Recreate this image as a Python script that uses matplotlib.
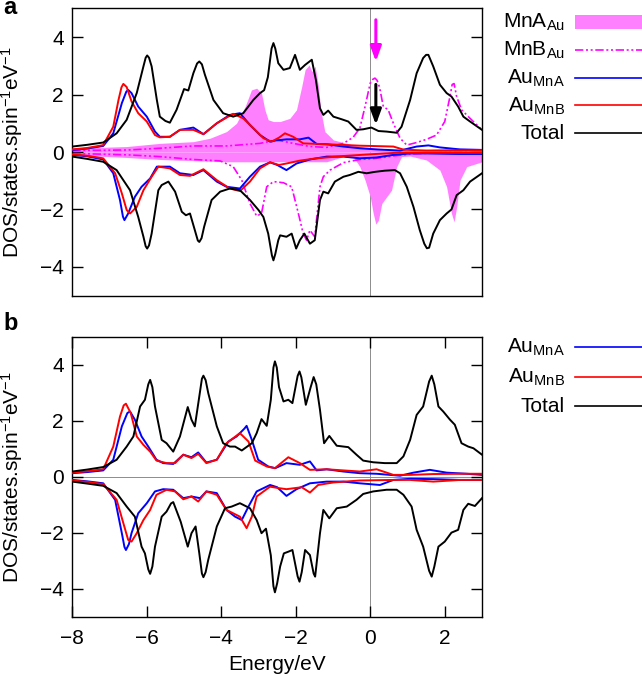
import numpy as np
import matplotlib
matplotlib.use("Agg")
from matplotlib import pyplot as plt
from matplotlib.lines import Line2D
from matplotlib.patches import Rectangle

plt.rcParams["font.family"] = ["Liberation Sans", "DejaVu Sans"]
plt.rcParams["mathtext.default"] = "regular"
plt.rcParams["font.size"] = 15

# ---- panel a : (energy eV, DOS) ----
mna_up_a = [(-8.0, 0.13), (-6.54, 0.19), (-5.65, 0.3), (-4.75, 0.36), (-4.3, 0.48), (-3.86, 0.71),
            (-3.59, 1.0), (-3.36, 1.58), (-3.19, 2.16), (-3.05, 2.22), (-2.92, 2.05), (-2.83, 1.47),
            (-2.74, 1.12), (-2.6, 1.06), (-2.42, 1.06), (-2.16, 1.17), (-1.98, 1.47), (-1.84, 2.28),
            (-1.75, 2.86), (-1.64, 3.03), (-1.57, 2.8), (-1.48, 2.98), (-1.39, 2.28), (-1.33, 1.47),
            (-1.22, 0.71), (-0.99, 0.42), (-0.63, 0.3), (-0.28, 0.19), (0.17, 0.13), (0.8, 0.07),
            (1.51, 0.09), (2.41, 0.13), (3.0, 0.13)]
mna_dn_a = [(-8.0, -0.1), (-6.54, -0.19), (-5.65, -0.26), (-4.75, -0.3), (-3.86, -0.34), (-2.5, -0.34),
            (-1.17, -0.34), (-0.72, -0.16), (-0.46, -0.16), (-0.28, -0.51), (-0.14, -0.98), (0.0, -1.56),
            (0.08, -2.14), (0.15, -2.51), (0.22, -2.37), (0.31, -1.79), (0.44, -1.56), (0.57, -1.33),
            (0.71, -0.51), (0.84, -0.16), (1.07, -0.14), (1.51, -0.28), (1.87, -0.63), (2.05, -1.21),
            (2.18, -2.14), (2.25, -2.43), (2.32, -1.91), (2.41, -0.98), (2.59, -0.51), (3.0, -0.34)]
mnb_up_a = [(-8.0, 0.05), (-6.5, 0.07), (-5.65, 0.13), (-4.75, 0.21), (-3.86, 0.21), (-2.96, 0.3),
            (-2.51, 0.42), (-2.07, 0.3), (-1.62, 0.19), (-1.17, 0.16), (-0.72, 0.3), (-0.46, 0.51),
            (-0.28, 0.83), (-0.14, 1.58), (0.0, 2.4), (0.07, 2.53), (0.126, 2.57), (0.18, 2.5),
            (0.25, 2.25), (0.35, 1.58), (0.48, 1.47), (0.62, 1.0), (0.8, 0.48), (0.98, 0.24),
            (1.245, 0.33), (1.51, 0.44), (1.78, 0.59), (2.0, 1.06), (2.14, 1.93), (2.2, 2.35),
            (2.25, 2.38), (2.32, 1.93), (2.45, 1.47), (2.68, 1.17), (3.0, 0.77)]
mnb_dn_a = [(-8.0, -0.05), (-6.5, -0.1), (-5.65, -0.16), (-4.75, -0.26), (-4.03, -0.31), (-3.68, -0.51),
            (-3.45, -0.98), (-3.23, -1.79), (-3.05, -2.23), (-2.92, -2.14), (-2.78, -1.21), (-2.6, -1.03),
            (-2.33, -1.07), (-2.11, -1.21), (-1.93, -2.14), (-1.8, -2.84), (-1.71, -3.07), (-1.62, -2.72),
            (-1.49, -2.95), (-1.35, -1.21), (-1.26, -0.86), (-1.08, -0.63), (-0.72, -0.37), (-0.28, -0.26),
            (0.17, -0.22), (0.62, -0.14), (1.07, -0.07), (1.96, -0.02), (3.0, -0.02)]
aua_up_a = [(-8.0, 0.07), (-7.6, 0.12), (-7.17, 0.21), (-6.9, 0.65), (-6.67, 1.7), (-6.55, 2.1),
            (-6.5, 2.16), (-6.41, 2.05), (-6.23, 1.58), (-6.0, 1.23), (-5.78, 0.71), (-5.65, 0.53),
            (-5.38, 0.53), (-5.11, 0.77), (-4.75, 0.85), (-4.48, 0.62), (-4.12, 1.0), (-3.77, 1.29),
            (-3.5, 1.35), (-3.23, 0.94), (-2.96, 0.59), (-2.69, 0.36), (-2.55, 0.4), (-2.25, 0.44),
            (-1.89, 0.44), (-1.66, 0.5), (-1.44, 0.28), (-1.17, 0.27), (-0.72, 0.19), (-0.28, 0.13),
            (0.17, 0.09), (0.8, 0.05), (1.245, 0.19), (1.56, 0.23), (1.87, 0.16), (2.41, 0.09), (3.0, 0.07)]
aua_dn_a = [(-8.0, -0.1), (-7.6, -0.15), (-7.17, -0.26), (-6.9, -0.74), (-6.72, -1.67), (-6.64, -2.25),
            (-6.6, -2.37), (-6.5, -2.14), (-6.32, -1.56), (-6.14, -1.21), (-5.91, -0.92), (-5.73, -0.51),
            (-5.38, -0.51), (-5.11, -0.74), (-4.75, -0.8), (-4.48, -0.63), (-4.12, -1.03), (-3.86, -1.21),
            (-3.5, -1.27), (-3.23, -0.86), (-2.96, -0.51), (-2.69, -0.36), (-2.5, -0.45), (-2.25, -0.63),
            (-1.98, -0.4), (-1.62, -0.26), (-1.17, -0.16), (-0.72, -0.16), (-0.28, -0.22), (0.17, -0.19),
            (0.62, -0.1), (1.07, -0.05), (1.51, -0.05), (2.41, -0.07), (3.0, -0.07)]
aub_up_a = [(-8.0, 0.09), (-7.6, 0.14), (-7.17, 0.24), (-6.9, 0.88), (-6.76, 1.81), (-6.68, 2.25),
            (-6.63, 2.37), (-6.54, 2.26), (-6.41, 1.76), (-6.23, 1.35), (-6.0, 1.06), (-5.78, 0.59),
            (-5.65, 0.51), (-5.38, 0.53), (-5.11, 0.77), (-4.75, 0.77), (-4.48, 0.62), (-4.12, 1.0),
            (-3.68, 1.33), (-3.41, 1.17), (-3.14, 0.83), (-2.87, 0.48), (-2.65, 0.36), (-2.45, 0.5),
            (-2.29, 0.65), (-2.07, 0.53), (-1.8, 0.3), (-1.17, 0.27), (-0.28, 0.22), (0.62, 0.19),
            (0.9, 0.08), (1.51, 0.05), (3.0, 0.06)]
aub_dn_a = [(-8.0, -0.08), (-7.6, -0.13), (-7.17, -0.22), (-6.85, -0.74), (-6.67, -1.44), (-6.54, -2.02),
            (-6.45, -2.14), (-6.27, -1.91), (-6.09, -1.33), (-5.87, -0.86), (-5.69, -0.51), (-5.38, -0.57),
            (-5.11, -0.8), (-4.84, -0.83), (-4.48, -0.6), (-4.12, -0.98), (-3.77, -1.27), (-3.5, -1.36),
            (-3.23, -1.03), (-2.96, -0.57), (-2.69, -0.36), (-2.45, -0.45), (-2.25, -0.4), (-1.89, -0.3),
            (-1.44, -0.22), (-0.72, -0.14), (0.0, -0.08), (0.8, -0.02), (1.5, -0.03), (3.0, -0.03)]
tot_up_a = [(-8.0, 0.19), (-7.6, 0.25), (-7.17, 0.33), (-6.81, 0.65), (-6.54, 1.12), (-6.27, 2.05),
            (-6.09, 2.98), (-6.03, 3.28), (-5.99, 3.36), (-5.94, 3.28), (-5.87, 2.98), (-5.73, 1.81),
            (-5.65, 1.23), (-5.5, 1.08), (-5.38, 1.02), (-5.2, 1.47), (-5.0, 2.19), (-4.885, 2.14),
            (-4.75, 2.74), (-4.65, 3.08), (-4.59, 3.15), (-4.52, 3.05), (-4.44, 2.69), (-4.21, 1.81),
            (-3.95, 1.35), (-3.68, 1.23), (-3.41, 1.35), (-3.14, 1.81), (-2.96, 2.05), (-2.85, 2.15),
            (-2.75, 2.6), (-2.65, 3.6), (-2.6, 3.79), (-2.55, 3.6), (-2.47, 3.09), (-2.33, 2.86),
            (-2.16, 2.92), (-2.02, 3.38), (-1.89, 2.86), (-1.75, 3.03), (-1.57, 3.21), (-1.46, 2.51),
            (-1.35, 1.52), (-1.26, 1.29), (-1.13, 1.44), (-0.99, 1.23), (-0.77, 1.14), (-0.59, 1.06),
            (-0.37, 0.77), (-0.19, 0.79), (0.03, 0.85), (0.22, 0.73), (0.44, 0.71), (0.71, 0.67),
            (0.84, 0.88), (1.07, 1.81), (1.245, 2.74), (1.42, 3.27), (1.5, 3.38), (1.56, 3.38),
            (1.69, 2.98), (1.87, 2.34), (2.05, 2.05), (2.18, 1.93), (2.36, 1.58), (2.5, 1.23),
            (2.68, 1.06), (3.0, 0.77)]
tot_dn_a = [(-8.0, -0.16), (-7.6, -0.24), (-7.17, -0.34), (-6.81, -0.63), (-6.45, -1.33), (-6.23, -2.26),
            (-6.09, -2.95), (-6.03, -3.28), (-5.99, -3.36), (-5.94, -3.25), (-5.87, -2.84), (-5.69, -1.33),
            (-5.6, -1.15), (-5.42, -1.03), (-5.24, -1.38), (-5.06, -2.08), (-4.95, -2.2), (-4.84, -2.14),
            (-4.71, -2.72), (-4.63, -3.08), (-4.59, -3.13), (-4.53, -3.0), (-4.46, -2.6), (-4.26, -1.67),
            (-4.03, -1.38), (-3.77, -1.27), (-3.5, -1.33), (-3.23, -1.67), (-3.0, -2.02), (-2.87, -2.26),
            (-2.74, -2.84), (-2.64, -3.6), (-2.6, -3.77), (-2.55, -3.55), (-2.47, -3.07), (-2.42, -2.9),
            (-2.25, -2.95), (-2.11, -2.84), (-1.99, -3.36), (-1.89, -3.07), (-1.77, -2.84), (-1.62, -3.19),
            (-1.49, -3.07), (-1.35, -1.67), (-1.26, -1.38), (-1.13, -1.44), (-0.95, -1.03), (-0.72, -0.86),
            (-0.55, -0.8), (-0.32, -0.69), (-0.1, -0.74), (0.13, -0.69), (0.39, -0.65), (0.66, -0.63),
            (0.8, -0.74), (0.98, -1.21), (1.16, -1.91), (1.33, -2.72), (1.45, -3.19), (1.52, -3.35),
            (1.58, -3.33), (1.69, -2.84), (1.87, -2.37), (2.05, -2.14), (2.18, -2.0), (2.32, -1.5),
            (2.5, -1.33), (2.68, -1.03), (3.0, -0.74)]

# ---- panel b ----
aua_up_b = [(-8.0, 0.13), (-7.6, 0.17), (-7.17, 0.23), (-6.9, 0.61), (-6.67, 1.8), (-6.52, 2.28),
            (-6.45, 2.33), (-6.32, 2.04), (-6.14, 1.44), (-5.96, 1.08), (-5.74, 0.61), (-5.56, 0.49),
            (-5.29, 0.46), (-5.02, 0.79), (-4.8, 0.7), (-4.62, 0.87), (-4.4, 0.51), (-4.12, 0.61),
            (-3.81, 1.26), (-3.59, 1.44), (-3.38, 1.72), (-3.32, 1.82), (-3.18, 1.32), (-3.01, 0.61),
            (-2.74, 0.37), (-2.55, 0.31), (-2.25, 0.49), (-1.89, 0.43), (-1.62, 0.55), (-1.44, 0.23),
            (-1.17, 0.27), (-0.72, 0.19), (-0.28, 0.13), (0.17, 0.11), (0.8, 0.04), (1.16, 0.15),
            (1.6, 0.25), (2.05, 0.15), (2.59, 0.11), (3.0, 0.07)]
aua_dn_b = [(-8.0, -0.11), (-7.6, -0.16), (-7.17, -0.23), (-6.85, -0.82), (-6.67, -2.01), (-6.6, -2.5),
            (-6.56, -2.61), (-6.48, -2.4), (-6.41, -2.01), (-6.23, -1.3), (-6.0, -0.94), (-5.78, -0.52),
            (-5.56, -0.44), (-5.29, -0.46), (-5.02, -0.76), (-4.8, -0.7), (-4.57, -0.76), (-4.4, -0.52),
            (-4.12, -0.58), (-3.86, -1.18), (-3.63, -1.42), (-3.45, -1.54), (-3.27, -1.06), (-3.05, -0.52),
            (-2.69, -0.29), (-2.5, -0.37), (-2.25, -0.68), (-1.98, -0.44), (-1.62, -0.23), (-1.17, -0.17),
            (-0.72, -0.17), (-0.28, -0.23), (0.26, -0.29), (0.62, -0.11), (1.07, -0.07), (1.69, -0.08),
            (2.41, -0.11), (3.0, -0.11)]
aub_up_b = [(-8.0, 0.15), (-7.6, 0.2), (-7.17, 0.27), (-6.9, 1.08), (-6.72, 2.15), (-6.62, 2.55),
            (-6.56, 2.61), (-6.43, 2.27), (-6.27, 1.44), (-6.09, 1.14), (-5.91, 0.9), (-5.74, 0.58),
            (-5.47, 0.49), (-5.24, 0.49), (-5.02, 0.79), (-4.8, 0.67), (-4.62, 0.82), (-4.4, 0.49),
            (-4.12, 0.61), (-3.86, 1.2), (-3.5, 1.56), (-3.27, 1.26), (-3.09, 0.58), (-2.78, 0.37),
            (-2.56, 0.31), (-2.2, 0.7), (-1.89, 0.49), (-1.62, 0.25), (-1.17, 0.27), (-0.28, 0.19),
            (0.17, 0.27), (0.62, 0.07), (1.07, 0.07), (1.69, 0.1), (2.41, 0.11), (3.0, 0.11)]
aub_dn_b = [(-8.0, -0.13), (-7.6, -0.18), (-7.17, -0.26), (-6.81, -0.82), (-6.63, -1.65), (-6.5, -2.25),
            (-6.41, -2.31), (-6.27, -2.01), (-6.09, -1.54), (-5.91, -1.18), (-5.74, -0.64), (-5.47, -0.46),
            (-5.24, -0.52), (-5.02, -0.8), (-4.8, -0.7), (-4.62, -0.88), (-4.4, -0.52), (-4.12, -0.64),
            (-3.86, -1.18), (-3.5, -1.42), (-3.32, -1.83), (-3.18, -1.42), (-3.05, -0.7), (-2.69, -0.35),
            (-2.47, -0.4), (-2.25, -0.44), (-1.84, -0.37), (-1.62, -0.56), (-1.4, -0.29), (-0.99, -0.2),
            (-0.28, -0.13), (0.62, -0.11), (1.07, -0.11), (1.69, -0.17), (2.41, -0.11), (3.0, -0.11)]
tot_up_b = [(-8.0, 0.19), (-7.6, 0.26), (-7.17, 0.35), (-6.81, 0.61), (-6.54, 1.08), (-6.36, 1.44),
            (-6.18, 2.51), (-6.05, 2.75), (-5.96, 3.3), (-5.91, 3.46), (-5.85, 3.2), (-5.78, 2.51),
            (-5.6, 1.32), (-5.47, 1.2), (-5.29, 0.9), (-5.11, 1.44), (-4.9, 2.49), (-4.8, 2.04),
            (-4.71, 1.8), (-4.59, 2.87), (-4.52, 3.5), (-4.48, 3.61), (-4.42, 3.45), (-4.35, 2.99),
            (-4.12, 1.8), (-3.95, 1.2), (-3.77, 1.08), (-3.63, 1.08), (-3.45, 0.94), (-3.18, 1.2),
            (-3.05, 1.56), (-2.92, 2.06), (-2.78, 1.82), (-2.67, 2.75), (-2.6, 3.9), (-2.56, 4.12),
            (-2.51, 3.9), (-2.45, 3.2), (-2.33, 2.69), (-2.2, 2.75), (-2.09, 2.63), (-1.95, 3.6),
            (-1.9, 3.76), (-1.85, 3.55), (-1.73, 2.57), (-1.6, 3.2), (-1.52, 3.56), (-1.45, 3.3),
            (-1.35, 2.39), (-1.24, 1.2), (-1.1, 1.46), (-0.9, 1.11), (-0.59, 1.06), (-0.37, 0.79),
            (-0.19, 0.58), (0.08, 0.52), (0.39, 0.49), (0.71, 0.49), (0.89, 0.73), (1.07, 1.32),
            (1.245, 2.21), (1.42, 2.51), (1.58, 3.4), (1.65, 3.61), (1.72, 3.3), (1.83, 2.51),
            (1.96, 2.33), (2.14, 2.04), (2.27, 1.86), (2.45, 1.2), (2.63, 1.08), (2.77, 1.02), (3.0, 0.79)]
tot_dn_b = [(-8.0, -0.17), (-7.6, -0.24), (-7.17, -0.32), (-6.81, -0.58), (-6.54, -1.06), (-6.32, -1.42),
            (-6.14, -2.49), (-6.05, -2.73), (-5.96, -3.3), (-5.91, -3.46), (-5.85, -3.2), (-5.78, -2.49),
            (-5.6, -1.42), (-5.47, -1.24), (-5.35, -0.95), (-5.29, -0.9), (-5.09, -1.6), (-4.9, -2.49),
            (-4.8, -2.01), (-4.69, -1.77), (-4.59, -2.73), (-4.52, -3.45), (-4.48, -3.58), (-4.42, -3.4),
            (-4.35, -2.96), (-4.12, -1.77), (-3.9, -1.12), (-3.72, -1.06), (-3.5, -0.94), (-3.23, -1.12),
            (-3.05, -1.54), (-2.92, -2.01), (-2.8, -1.85), (-2.67, -2.8), (-2.6, -3.9), (-2.56, -4.12),
            (-2.5, -3.8), (-2.42, -3.2), (-2.32, -2.73), (-2.2, -2.67), (-2.09, -2.61), (-1.95, -3.55),
            (-1.9, -3.74), (-1.84, -3.4), (-1.75, -2.61), (-1.62, -2.79), (-1.52, -3.45), (-1.48, -3.56),
            (-1.35, -2.01), (-1.26, -1.18), (-1.1, -1.48), (-0.9, -1.12), (-0.63, -1.06), (-0.37, -0.82),
            (-0.19, -0.61), (0.08, -0.52), (0.44, -0.46), (0.71, -0.46), (0.89, -0.64), (1.11, -1.06),
            (1.245, -1.89), (1.42, -2.49), (1.58, -3.35), (1.65, -3.56), (1.72, -3.2), (1.83, -2.49),
            (2.0, -2.31), (2.18, -1.99), (2.36, -1.89), (2.5, -1.18), (2.63, -0.96), (2.81, -1.04),
            (3.0, -0.76)]

legend_a = ["MnA$_{Au}$", "MnB$_{Au}$", "Au$_{MnA}$", "Au$_{MnB}$", "Total"]
legend_b = ["Au$_{MnA}$", "Au$_{MnB}$", "Total"]

PINK = "#ff80ff"
MAGENTA = "#ff00ff"
BLUE = "#0000ff"
RED = "#ff0000"
LW = 1.4
DASHDOT = (0, (5, 1.6, 1.2, 1.6, 1.2, 1.6))


def xy(pts):
    a = np.array(pts)
    return a[:, 0], a[:, 1]


W, H = 642, 676
fig = plt.figure(figsize=(W / 100, H / 100), dpi=100)


def px_axes(x0, y0, x1, y1):
    return fig.add_axes([x0 / W, 1 - y1 / H, (x1 - x0) / W, (y1 - y0) / H])


ax1 = px_axes(72.3, 8.3, 482, 295.7)
ax2 = px_axes(72.3, 336.7, 482, 617)

# panel a
ax1.axvline(0, color="0.55", lw=0.7, zorder=0)
for pts in (mna_up_a, mna_dn_a):
    e, d = xy(pts)
    ax1.fill_between(e, 0, d, color=PINK, lw=0, zorder=1)
for pts in (mnb_up_a, mnb_dn_a):
    e, d = xy(pts)
    ax1.plot(e, d, color=MAGENTA, lw=1.2, ls=DASHDOT, zorder=2)
for pts, c in ((aua_up_a, BLUE), (aua_dn_a, BLUE), (aub_up_a, RED), (aub_dn_a, RED),
               (tot_up_a, "k"), (tot_dn_a, "k")):
    e, d = xy(pts)
    ax1.plot(e, d, color=c, lw=LW, zorder=3)

# arrows at the Fermi level
ax1.annotate("", xy=(0.15, 3.15), xytext=(0.15, 4.6),
             arrowprops=dict(arrowstyle="-|>,head_width=0.22,head_length=0.6",
                             color=MAGENTA, lw=2.2, shrinkA=0, shrinkB=0))
ax1.annotate("", xy=(0.15, 0.95), xytext=(0.15, 2.35),
             arrowprops=dict(arrowstyle="-|>,head_width=0.22,head_length=0.6",
                             color="k", lw=2.2, shrinkA=0, shrinkB=0))

# panel b
ax2.axvline(0, color="0.55", lw=0.7, zorder=0)
ax2.axhline(0, color="0.55", lw=0.7, zorder=0)
for pts, c in ((aua_up_b, BLUE), (aua_dn_b, BLUE), (aub_up_b, RED), (aub_dn_b, RED),
               (tot_up_b, "k"), (tot_dn_b, "k")):
    e, d = xy(pts)
    ax2.plot(e, d, color=c, lw=LW, zorder=3)

for ax in (ax1, ax2):
    ax.set_xlim(-8, 3)
    ax.set_ylim(-5, 5)
    ax.set_yticks([-4, -2, 0, 2, 4])
    ax.set_xticks([-8, -6, -4, -2, 0, 2])
    ax.tick_params(direction="in", length=8, width=1, top=True, right=True, labelsize=15)
    ax.tick_params(axis="y", pad=6)
    ax.tick_params(axis="x", pad=9)
    for s in ax.spines.values():
        s.set_linewidth(1)
    ax.set_ylabel("DOS/states.spin$^{-1}$eV$^{-1}$", fontsize=15)
    ax.yaxis.set_label_coords(-0.115, 0.5)

ax1.tick_params(axis="x", top=False, bottom=False, labelbottom=False)
ax2.set_xlabel("Energy/eV", fontsize=15, labelpad=5)

fig.text(3 / W, 1 - 14 / H, "a", fontsize=17, fontweight="bold", va="baseline")
fig.text(3 / W, 1 - 330 / H, "b", fontsize=17, fontweight="bold", va="baseline")

# legends drawn by hand: label right-aligned, sample on the right
handles_a = [("fill", PINK), ("dash", MAGENTA), ("line", BLUE), ("line", RED), ("line", "k")]
handles_b = [("line", BLUE), ("line", RED), ("line", "k")]


def draw_legend(labels, handles, y0, step):
    for i, (lab, (kind, c)) in enumerate(zip(labels, handles)):
        y = y0 + i * step
        fig.text(565 / W, 1 - (y + 6) / H, lab, ha="right", va="baseline", fontsize=15)
        if kind == "fill":
            fig.add_artist(Rectangle((575 / W, 1 - (y + 7) / H), 67 / W, 14 / H,
                                     transform=fig.transFigure, color=c, lw=0))
        else:
            ls = DASHDOT if kind == "dash" else "-"
            fig.add_artist(Line2D([575 / W, 642 / W], [1 - y / H, 1 - y / H],
                                  transform=fig.transFigure, color=c, lw=1.2, ls=ls))


draw_legend(legend_a, handles_a, 22, 27.8)
draw_legend(legend_b, handles_b, 347, 29.5)

fig.savefig("out.png", dpi=100)
